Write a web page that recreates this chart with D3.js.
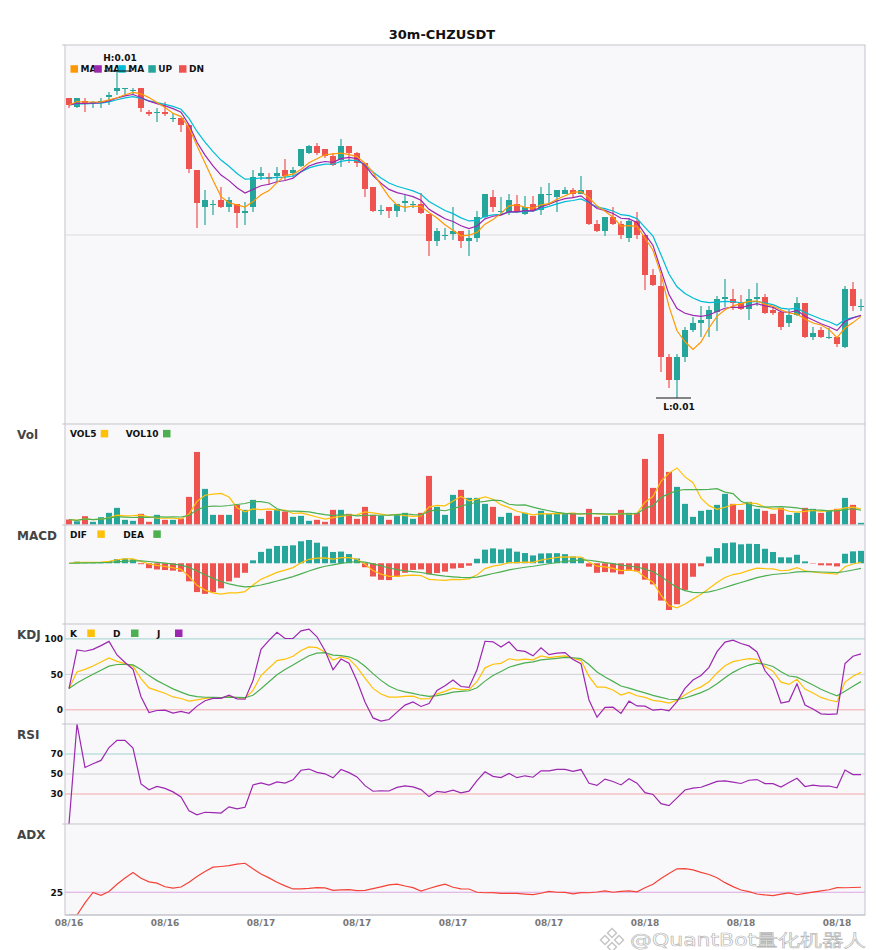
<!DOCTYPE html>
<html>
<head>
<meta charset="utf-8">
<title>30m-CHZUSDT</title>
<script src="https://cdn.jsdelivr.net/npm/d3@7/dist/d3.min.js"></script>
<style>
  body { margin: 0; background: #fff; }
  text { font-family: "DejaVu Sans", Verdana, sans-serif; }
</style>
</head>
<body>
<div id="chart"></div>
<script>
// 100 candles of 30 minutes
const opens = [0.01287,0.01278,0.01284,0.01282,0.01283,0.01288,0.01294,0.01296,0.01294,0.01297,
  0.01273,0.01272,0.01273,0.01266,0.01267,0.01260,0.01215,0.01178,0.01180,0.01185,
  0.01178,0.01181,0.01172,0.01178,0.01209,0.01208,0.01209,0.01215,0.01212,0.01219,
  0.01232,0.01239,0.01236,0.01229,0.01225,0.01239,0.01232,0.01222,0.01198,0.01174,
  0.01178,0.01174,0.01182,0.01180,0.01181,0.01171,0.01144,0.01149,0.01151,0.01154,
  0.01144,0.01147,0.01168,0.01188,0.01173,0.01173,0.01181,0.01171,0.01181,0.01175,
  0.01190,0.01188,0.01191,0.01195,0.01191,0.01195,0.01161,0.01154,0.01168,0.01161,
  0.01147,0.01164,0.01150,0.01110,0.01099,0.01028,0.01005,0.01028,0.01055,0.01062,
  0.01066,0.01073,0.01086,0.01086,0.01082,0.01076,0.01086,0.01088,0.01075,0.01073,
  0.01062,0.01070,0.01082,0.01048,0.01055,0.01047,0.01048,0.01038,0.01096,0.01078];
const highs = [0.01287,0.01287,0.01287,0.01284,0.01287,0.01293,0.01314,0.01297,0.01297,0.01297,
  0.01275,0.01277,0.01283,0.01272,0.01267,0.01260,0.01215,0.01195,0.01185,0.01198,
  0.01188,0.01181,0.01183,0.01215,0.01218,0.01212,0.01218,0.01226,0.01218,0.01236,
  0.01240,0.01242,0.01236,0.01232,0.01246,0.01239,0.01233,0.01222,0.01198,0.01180,
  0.01178,0.01181,0.01190,0.01184,0.01192,0.01171,0.01157,0.01157,0.01178,0.01154,
  0.01155,0.01174,0.01191,0.01195,0.01188,0.01191,0.01190,0.01189,0.01189,0.01198,
  0.01202,0.01195,0.01198,0.01197,0.01209,0.01195,0.01165,0.01168,0.01178,0.01164,
  0.01167,0.01173,0.01150,0.01116,0.01110,0.01031,0.01031,0.01058,0.01068,0.01079,
  0.01079,0.01089,0.01106,0.01096,0.01090,0.01096,0.01102,0.01091,0.01079,0.01075,
  0.01075,0.01088,0.01082,0.01058,0.01058,0.01057,0.01048,0.01099,0.01103,0.01086];
const lows = [0.01277,0.01277,0.01273,0.01277,0.01277,0.01280,0.01290,0.01290,0.01290,0.01273,
  0.01269,0.01263,0.01269,0.01263,0.01253,0.01212,0.01157,0.01160,0.01170,0.01177,
  0.01173,0.01157,0.01160,0.01173,0.01205,0.01200,0.01203,0.01205,0.01208,0.01218,
  0.01231,0.01230,0.01227,0.01219,0.01218,0.01222,0.01218,0.01188,0.01173,0.01170,
  0.01167,0.01168,0.01173,0.01177,0.01171,0.01129,0.01139,0.01145,0.01145,0.01137,
  0.01129,0.01143,0.01167,0.01173,0.01170,0.01170,0.01172,0.01170,0.01173,0.01170,
  0.01180,0.01173,0.01191,0.01187,0.01191,0.01160,0.01153,0.01149,0.01160,0.01146,
  0.01143,0.01146,0.01095,0.01099,0.01013,0.00997,0.00987,0.01023,0.01053,0.01048,
  0.01048,0.01054,0.01078,0.01075,0.01075,0.01065,0.01079,0.01071,0.01070,0.01055,
  0.01058,0.01069,0.01047,0.01045,0.01047,0.01046,0.01038,0.01037,0.01074,0.01074];
const closes = [0.01280,0.01287,0.01282,0.01283,0.01284,0.01290,0.01297,0.01297,0.01295,0.01277,
  0.01271,0.01273,0.01271,0.01267,0.01260,0.01216,0.01182,0.01185,0.01181,0.01178,
  0.01185,0.01172,0.01174,0.01208,0.01212,0.01206,0.01212,0.01209,0.01215,0.01236,
  0.01239,0.01232,0.01229,0.01220,0.01239,0.01232,0.01222,0.01196,0.01174,0.01175,
  0.01174,0.01181,0.01184,0.01181,0.01172,0.01144,0.01154,0.01150,0.01154,0.01144,
  0.01147,0.01168,0.01191,0.01178,0.01174,0.01185,0.01173,0.01178,0.01174,0.01191,
  0.01191,0.01195,0.01195,0.01191,0.01195,0.01161,0.01154,0.01168,0.01161,0.01150,
  0.01164,0.01150,0.01110,0.01100,0.01028,0.01005,0.01028,0.01055,0.01062,0.01065,
  0.01075,0.01086,0.01088,0.01082,0.01076,0.01086,0.01088,0.01072,0.01072,0.01058,
  0.01070,0.01082,0.01048,0.01052,0.01048,0.01048,0.01041,0.01096,0.01079,0.01079];
const volumes = [150,98,250,80,220,350,500,140,110,320,
  80,290,140,140,180,830,2180,1070,290,290,
  290,590,440,740,170,410,450,390,230,260,
  110,140,80,440,440,320,170,530,290,260,
  140,290,350,170,350,1460,530,290,890,1040,
  800,800,620,530,230,350,260,350,260,410,
  320,320,320,350,230,470,230,260,260,440,
  350,350,1970,1100,2720,1580,1130,620,230,410,
  440,590,920,620,440,680,470,410,320,500,
  290,350,500,470,350,410,470,800,590,50];

// x axis tick labels, one every 12 candles
const tickIndex = [0, 12, 24, 36, 48, 60, 72, 84, 96];
const tickLabels = ["08/16", "08/16", "08/17", "08/17", "08/17", "08/17", "08/18", "08/18", "08/18"];

// indicator helpers (averages use whatever candles exist at the start)
function ma(arr, n) {
    return arr.map(function(d, i) {
        return d3.mean(arr.slice(Math.max(0, i - n + 1), i + 1));
    });
}
function smooth(arr, a) {
    var out = [];
    arr.forEach(function(v, i) {
        out.push(i === 0 ? v : out[i - 1] + a * (v - out[i - 1]));
    });
    return out;
}
function ema(arr, n) { return smooth(arr, 2 / (n + 1)); }
function rma(arr, n) { return smooth(arr, 1 / n); }

var N = closes.length;
var up = closes.map(function(c, i) { return c >= opens[i]; });

// price lines: simple 5, then the fast and slow ema also used by the macd
var maFast = ma(closes, 5);
var emaMid = ema(closes, 8);
var emaSlow = ema(closes, 12);
var vol5 = ma(volumes, 5), vol10 = ma(volumes, 10);

// macd
var dif = emaMid.map(function(v, i) { return v - emaSlow[i]; });
var dea = ema(dif, 9);
var hist = dif.map(function(v, i) { return 2 * (v - dea[i]); });

// kdj 9/3/3
var kLine = [], dLine = [], jLine = [];
closes.forEach(function(c, i) {
    var s = Math.max(0, i - 8);
    var hh = d3.max(highs.slice(s, i + 1)), ll = d3.min(lows.slice(s, i + 1));
    var rsv = hh === ll ? 50 : (c - ll) / (hh - ll) * 100;
    var k = i === 0 ? rsv : kLine[i - 1] * 2 / 3 + rsv / 3;
    var d = i === 0 ? k : dLine[i - 1] * 2 / 3 + k / 3;
    kLine.push(k); dLine.push(d); jLine.push(3 * k - 2 * d);
});

// rsi 14 (wilder)
var gains = closes.map(function(c, i) { return i === 0 ? 0 : Math.max(0, c - closes[i - 1]); });
var losses = closes.map(function(c, i) { return i === 0 ? 0 : Math.max(0, closes[i - 1] - c); });
var ag = rma(gains, 14), al = rma(losses, 14);
var rsi = ag.map(function(g, i) { return g + al[i] === 0 ? 0 : 100 * g / (g + al[i]); });

// adx 14
var tr = [], pdm = [], mdm = [];
closes.forEach(function(c, i) {
    if (i === 0) { tr.push(highs[0] - lows[0]); pdm.push(0); mdm.push(0); return; }
    var pc = closes[i - 1];
    tr.push(Math.max(highs[i] - lows[i], Math.abs(highs[i] - pc), Math.abs(lows[i] - pc)));
    var u = highs[i] - highs[i - 1], dn = lows[i - 1] - lows[i];
    pdm.push(u > dn && u > 0 ? u : 0);
    mdm.push(dn > u && dn > 0 ? dn : 0);
});
var str = ema(tr, 14), spdm = ema(pdm, 14), smdm = ema(mdm, 14);
var dx = str.map(function(t, i) {
    var p = 100 * spdm[i] / t, m = 100 * smdm[i] / t;
    return p + m === 0 ? 0 : 100 * Math.abs(p - m) / (p + m);
});
var adx = ema(dx, 14);

// layout
const width = 885, height = 950;
const left = 65, right = 865;
const panels = {
    main: [45, 424], vol: [424, 525], macd: [525, 624],
    kdj: [624, 724], rsi: [724, 824], adx: [824, 915]
};
const teal = "#26a69a", red = "#ef5350";
const yellow = "#ffc107", green = "#4caf50", purple = "#9c27b0";

var svg = d3.select("#chart")
    .append("svg")
    .attr("width", width)
    .attr("height", height)

svg.append("rect").attr("width", width).attr("height", height).attr("fill", "#fff")

var x = d3.scaleBand()
    .domain(d3.range(N))
    .range([left, right])
    .paddingInner(0.25)
    .paddingOuter(0.125);
function cx(i) { return x(i) + x.bandwidth() / 2; }

// panel backgrounds and clips
var defs = svg.append("defs");
Object.keys(panels).forEach(function(k) {
    var p = panels[k];
    svg.append("rect")
        .attr("x", left).attr("y", p[0])
        .attr("width", right - left).attr("height", p[1] - p[0])
        .attr("fill", "#f8f8fb");
    defs.append("clipPath").attr("id", "clip-" + k)
        .append("rect")
        .attr("x", left).attr("y", p[0])
        .attr("width", right - left).attr("height", p[1] - p[0]);
});
function layer(k) {
    return svg.append("g").attr("clip-path", "url(#clip-" + k + ")");
}

function hline(g, y, color) {
    g.append("line")
        .attr("x1", left).attr("x2", right)
        .attr("y1", y).attr("y2", y)
        .attr("stroke", color).attr("stroke-width", 1);
}

function drawLine(g, values, y, color) {
    g.append("path")
        .datum(values)
        .attr("fill", "none")
        .attr("stroke", color)
        .attr("stroke-width", 1.2)
        .attr("d", d3.line().x(function(d, i) { return cx(i); }).y(function(d) { return y(d); }));
}

// legend where the label comes after the square
function legendBefore(items, y) {
    items.forEach(function(it) {
        svg.append("rect").attr("x", it.x).attr("y", y - 3.8).attr("width", 7.5).attr("height", 7.5).attr("fill", it.color);
        svg.append("text").attr("x", it.x + 10).attr("y", y + 3.3)
            .attr("font-size", 9).attr("font-weight", "bold").attr("fill", "#111").text(it.label);
    });
}
// legend where the square comes after the label
function legendAfter(items, y) {
    items.forEach(function(it) {
        svg.append("text").attr("x", it.x).attr("y", y + 3.3)
            .attr("font-size", 9).attr("font-weight", "bold").attr("fill", "#111").text(it.label);
        svg.append("rect").attr("x", it.sx).attr("y", y - 3.8).attr("width", 7.5).attr("height", 7.5).attr("fill", it.color);
    });
}

function yTicks(y, ticks) {
    ticks.forEach(function(t) {
        svg.append("text")
            .attr("x", 63).attr("y", y(t) + 3.3)
            .attr("text-anchor", "end")
            .attr("font-size", 9).attr("font-weight", "bold").attr("fill", "#111")
            .text(t);
    });
}

// main candle panel
function drawMain() {
    var p = panels.main;
    var y = d3.scaleLinear().domain([0.00961, 0.0134]).range([p[1], p[0]]);
    var g = layer("main");
    hline(g, y(0.0115), "#dcdce0");

    g.selectAll(".wick").data(d3.range(N)).enter().append("line")
        .attr("x1", cx).attr("x2", cx)
        .attr("y1", function(i) { return y(highs[i]); })
        .attr("y2", function(i) { return y(lows[i]); })
        .attr("stroke", function(i) { return up[i] ? teal : red; })
        .attr("stroke-width", 1.2);

    g.selectAll(".body").data(d3.range(N)).enter().append("rect")
        .attr("x", function(i) { return x(i); })
        .attr("width", x.bandwidth())
        .attr("y", function(i) { return y(Math.max(opens[i], closes[i])); })
        .attr("height", function(i) { return Math.max(1, Math.abs(y(opens[i]) - y(closes[i]))); })
        .attr("fill", function(i) { return up[i] ? teal : red; });

    drawLine(g, emaSlow, y, "#00bcd4");
    drawLine(g, emaMid, y, purple);
    drawLine(g, maFast, y, "#ff9800");

    legendBefore([
        { x: 70.5, label: "MA", color: "#ff9800" },
        { x: 94.3, label: "MA", color: purple },
        { x: 118.3, label: "MA", color: "#00bcd4" },
        { x: 148.3, label: "UP", color: teal },
        { x: 179, label: "DN", color: red }
    ], 69);

    // highest high and lowest low markers
    var hi = d3.maxIndex(highs), lo = d3.minIndex(lows);
    var fmt = d3.format(".2f");
    svg.append("line").attr("x1", cx(hi) - 13).attr("x2", cx(hi) + 15)
        .attr("y1", y(highs[hi])).attr("y2", y(highs[hi])).attr("stroke", "#111");
    svg.append("text").attr("x", cx(hi) + 3).attr("y", y(highs[hi]) - 10)
        .attr("text-anchor", "middle").attr("font-size", 9).attr("font-weight", "bold").attr("fill", "#111")
        .text("H:" + fmt(highs[hi]));
    svg.append("line").attr("x1", cx(lo) - 21).attr("x2", cx(lo) + 14)
        .attr("y1", y(lows[lo])).attr("y2", y(lows[lo])).attr("stroke", "#111");
    svg.append("text").attr("x", cx(lo) + 2).attr("y", y(lows[lo]) + 12)
        .attr("text-anchor", "middle").attr("font-size", 9).attr("font-weight", "bold").attr("fill", "#111")
        .text("L:" + fmt(lows[lo]));
}

// volume panel
function drawVol() {
    var p = panels.vol;
    var y = d3.scaleLinear().domain([0, d3.max(volumes) * 1.11]).range([p[1] - 0.5, p[0]]);
    var g = layer("vol");
    g.selectAll("rect").data(d3.range(N)).enter().append("rect")
        .attr("x", function(i) { return x(i); })
        .attr("width", x.bandwidth())
        .attr("y", function(i) { return y(volumes[i]); })
        .attr("height", function(i) { return y(0) - y(volumes[i]); })
        .attr("fill", function(i) { return up[i] ? teal : red; });
    drawLine(g, vol5, y, yellow);
    drawLine(g, vol10, y, green);
    legendAfter([
        { x: 70, sx: 100.7, label: "VOL5", color: yellow },
        { x: 125.7, sx: 163, label: "VOL10", color: green }
    ], p[0] + 9.7);
}

// macd panel
function drawMacd() {
    var p = panels.macd;
    var ext = d3.extent(dif.concat(dea, hist));
    var y = d3.scaleLinear().domain(ext).range([p[1] - 14, p[0] + 15]);
    var g = layer("macd");
    g.selectAll("rect").data(d3.range(N)).enter().append("rect")
        .attr("x", function(i) { return x(i); })
        .attr("width", x.bandwidth())
        .attr("y", function(i) { return Math.min(y(0), y(hist[i])); })
        .attr("height", function(i) { return Math.abs(y(hist[i]) - y(0)); })
        .attr("fill", function(i) { return hist[i] >= 0 ? teal : red; });
    drawLine(g, dif, y, yellow);
    drawLine(g, dea, y, green);
    legendAfter([
        { x: 70, sx: 97.3, label: "DIF", color: yellow },
        { x: 123.3, sx: 153.3, label: "DEA", color: green }
    ], p[0] + 9.2);
}

// kdj panel
function drawKdj() {
    var p = panels.kdj;
    var y = d3.scaleLinear().domain([-20, 121]).range([p[1], p[0]]);
    var g = layer("kdj");
    hline(g, y(100), "#9fd4cd");
    hline(g, y(50), "#cfcfd4");
    hline(g, y(0), "#f4a6a6");
    yTicks(y, [100, 50, 0]);
    drawLine(g, kLine, y, yellow);
    drawLine(g, dLine, y, green);
    drawLine(g, jLine, y, purple);
    legendAfter([
        { x: 70, sx: 87.3, label: "K", color: yellow },
        { x: 113, sx: 131, label: "D", color: green },
        { x: 157, sx: 175, label: "J", color: purple }
    ], p[0] + 9.3);
}

// rsi panel
function drawRsi() {
    var p = panels.rsi;
    var y = d3.scaleLinear().domain([0, 100]).range([p[1], p[0]]);
    var g = layer("rsi");
    hline(g, y(70), "#9fd4cd");
    hline(g, y(50), "#cfcfd4");
    hline(g, y(30), "#f4a6a6");
    yTicks(y, [70, 50, 30]);
    drawLine(g, rsi, y, purple);
}

// adx panel
function drawAdx() {
    var p = panels.adx;
    var y = d3.scaleLinear().domain([0, 100]).range([p[1], p[0]]);
    var g = layer("adx");
    hline(g, y(25), "#dba7e4");
    yTicks(y, [25]);
    drawLine(g, adx, y, "#f44336");
}

drawMain();
drawVol();
drawMacd();
drawKdj();
drawRsi();
drawAdx();

// frame, panel separators and small ticks on the left axis
var frame = svg.append("g").attr("stroke", "#c3c3cb").attr("fill", "none");
frame.append("rect").attr("x", left).attr("y", panels.main[0])
    .attr("width", right - left).attr("height", panels.adx[1] - panels.main[0]);
Object.keys(panels).forEach(function(k) {
    var yb = panels[k][1];
    frame.append("line").attr("x1", left).attr("x2", right).attr("y1", yb).attr("y2", yb);
    frame.append("line").attr("x1", left - 3).attr("x2", left).attr("y1", panels[k][0]).attr("y2", panels[k][0]);
});

// panel names
[["Vol", "vol"], ["MACD", "macd"], ["KDJ", "kdj"], ["RSI", "rsi"], ["ADX", "adx"]].forEach(function(d) {
    svg.append("text")
        .attr("x", 17).attr("y", panels[d[1]][0] + 15)
        .attr("font-size", 12).attr("font-weight", "bold").attr("fill", "#444")
        .text(d[0]);
});

// x axis labels
svg.selectAll(".xl").data(tickIndex).enter().append("text")
    .attr("x", cx)
    .attr("y", 925.5)
    .attr("text-anchor", "middle")
    .attr("font-size", 9).attr("font-weight", "bold").attr("fill", "#777")
    .text(function(d, i) { return tickLabels[i]; });

// title
svg.append("text")
    .attr("x", 442).attr("y", 38.5)
    .attr("text-anchor", "middle")
    .attr("font-size", 13).attr("font-weight", "bold").attr("fill", "#111")
    .text("30m-CHZUSDT");

// watermark of the source, kept just under the date labels
var wm = svg.append("g").attr("opacity", 0.85);
[[612, 933], [605, 940], [619, 940], [612, 947]].forEach(function(c) {
    wm.append("rect")
        .attr("x", -3.2).attr("y", -3.2).attr("width", 6.4).attr("height", 6.4)
        .attr("transform", "translate(" + c[0] + "," + c[1] + ") rotate(45)")
        .attr("fill", "none").attr("stroke", "#bbb").attr("stroke-width", 1.4);
});
wm.append("text")
    .attr("x", 630).attr("y", 946)
    .attr("font-family", "'Noto Sans CJK SC', 'Noto Sans', sans-serif")
    .attr("font-size", 17)
    .attr("textLength", 236).attr("lengthAdjust", "spacingAndGlyphs")
    .attr("fill", "#fff").attr("stroke", "#aaa").attr("stroke-width", 0.6)
    .text("@QuantBot量化机器人");
</script>
</body>
</html>
